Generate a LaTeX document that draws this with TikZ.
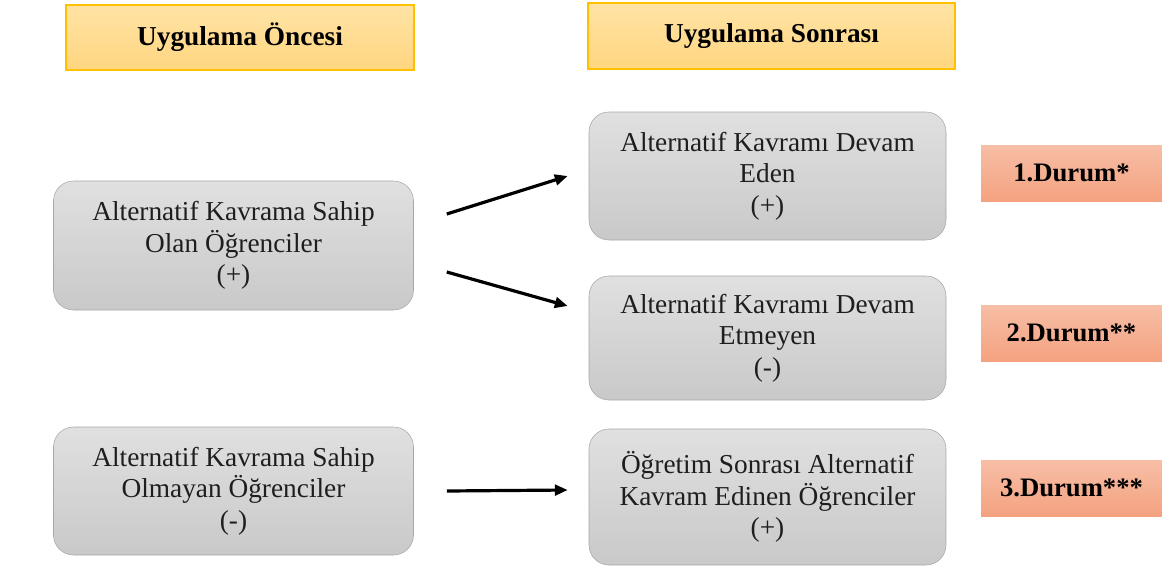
\documentclass[tikz,border=0pt]{standalone}
\usepackage{fontspec}
\setmainfont{Liberation Serif}
\usepackage{tikz}
\usetikzlibrary{arrows.meta,positioning,calc}
\definecolor{basyellow}{RGB}{255,214,128}
\definecolor{basyellowtop}{RGB}{255,227,165}
\definecolor{basborder}{RGB}{255,192,0}
\definecolor{kutugray}{RGB}{201,201,201}
\definecolor{kutugraytop}{RGB}{224,224,224}
\definecolor{kutuborder}{RGB}{166,166,166}
\definecolor{kututext}{RGB}{30,30,30}
\definecolor{durumsalmon}{RGB}{244,162,128}
\definecolor{durumsalmontop}{RGB}{247,190,166}

\begin{document}
\begin{tikzpicture}[x=0.75pt,y=-0.75pt,
  baslik/.style={rectangle,draw=basborder,thick,top color=basyellowtop,bottom color=basyellow,align=center,font=\fontsize{20.5}{24}\selectfont\bfseries},
  kutu/.style={rectangle,rounded corners=15pt,draw=kutuborder,top color=kutugraytop,bottom color=kutugray,align=center,minimum width=270pt,inner xsep=2pt,text=kututext,font=\fontsize{20.5}{23.5}\selectfont},
  durum/.style={rectangle,top color=durumsalmontop,bottom color=durumsalmon,align=center,minimum width=135.75pt,minimum height=42pt,font=\fontsize{20}{24}\selectfont\bfseries},
  arr/.style={-{Triangle[length=3.4mm,width=2.8mm]},line width=2.4pt}
]
\useasboundingbox (0,0) rectangle (1162,568);
% basliklar
\node[baslik,minimum width=261pt,minimum height=48.75pt] (once) at (240,37.5) {Uygulama Öncesi};
\node[baslik,minimum width=275.25pt,minimum height=49.5pt] (sonra) at (771.5,36) {Uygulama Sonrası};
% uygulama oncesi
\node[kutu,minimum height=96.75pt] (sahip) at (233.5,245.5) {Alternatif Kavrama Sahip\\Olan Öğrenciler\\(+)};
\node[kutu,minimum height=96pt] (olmayan) at (233.5,491) {Alternatif Kavrama Sahip\\Olmayan Öğrenciler\\(-)};
% uygulama sonrasi
\node[kutu,minimum width=267.75pt,minimum height=96pt] (devam) at (767.5,176) {Alternatif Kavramı Devam\\Eden\\(+)};
\node[kutu,minimum width=267.75pt,minimum height=93pt] (etmeyen) at (767.5,338) {Alternatif Kavramı Devam\\Etmeyen\\(-)};
\node[kutu,minimum width=267.75pt,minimum height=102pt] (edinen) at (767.5,497) {Öğretim Sonrası Alternatif\\Kavram Edinen Öğrenciler\\(+)};
% durumlar
\node[durum] (d1) at (1071.5,173) {1.Durum*};
\node[durum] (d2) at (1071.5,333) {2.Durum**};
\node[durum] (d3) at (1071.5,488) {3.Durum***};
% oklar
\draw[arr] ([shift={(33,-31.5)}]sahip.east) -- ([shift={(-21,0)}]devam.west);
\draw[arr] ([shift={(33,26.5)}]sahip.east) -- ([shift={(-21,-32)}]etmeyen.west);
\draw[arr] ([shift={(33,0)}]olmayan.east) -- ([shift={(-21,-7)}]edinen.west);
\end{tikzpicture}
\end{document}
